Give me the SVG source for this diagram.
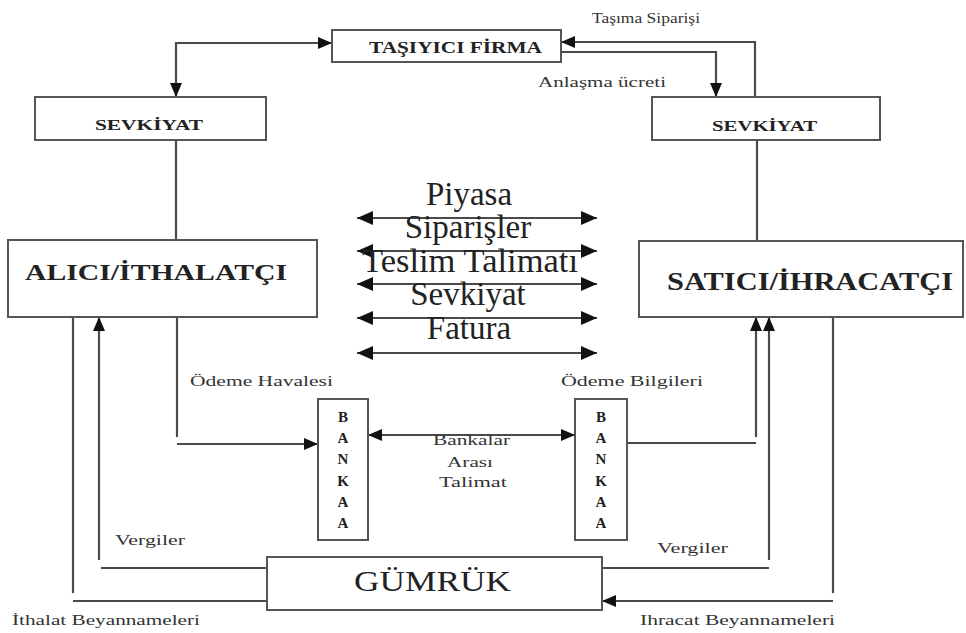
<svg xmlns="http://www.w3.org/2000/svg" width="966" height="633" viewBox="0 0 966 633">
<style>
.box{fill:#fff;stroke:#555;stroke-width:2}
.ln{fill:none;stroke:#4a4a4a;stroke-width:2.2}
.ar{marker-end:url(#ah)}
.ar2{marker-start:url(#ah);marker-end:url(#ah)}
.big{marker-start:url(#ahL);marker-end:url(#ahL)}
.bt{font-family:"Liberation Serif","Times New Roman",serif;font-weight:bold;fill:#222}
.lb{font-family:"Liberation Serif","Times New Roman",serif;font-size:14px;fill:#333}
.mid{font-family:"Liberation Serif","Times New Roman",serif;font-size:33px;fill:#222;text-anchor:middle}
</style>
<defs>
<marker id="ah" viewBox="0 0 14 12" refX="14" refY="6" markerWidth="14" markerHeight="12" orient="auto-start-reverse" markerUnits="userSpaceOnUse"><path d="M0,0 L14,6 L0,12 z" fill="#111"/></marker>
<marker id="ahL" viewBox="0 0 16 14" refX="16" refY="7" markerWidth="16" markerHeight="14" orient="auto-start-reverse" markerUnits="userSpaceOnUse"><path d="M0,0 L16,7 L0,14 z" fill="#111"/></marker>
</defs>
<rect width="966" height="633" fill="#fff"/>

<g id="connectors">
<path class="ln ar2" d="M176,97 V43 H332"/>
<path class="ln ar" d="M755,97 V42 H561"/>
<path class="ln ar" d="M561,52 H716 V97"/>
<path class="ln" d="M176,140 V240"/>
<path class="ln" d="M757,140 V241"/>
<path class="ln big" d="M357,218 H597"/>
<path class="ln big" d="M357,251 H597"/>
<path class="ln big" d="M357,284 H597"/>
<path class="ln big" d="M357,318 H597"/>
<path class="ln big" d="M357,353 H597"/>
<path class="ln" d="M177,317 V437"/>
<path class="ln ar" d="M177,444 H318"/>
<path class="ln ar2" d="M368,435 H575"/>
<path class="ln" d="M627,443 H756"/>
<path class="ln ar" d="M756,437 V317"/>
<path class="ln" d="M602,568 H769"/>
<path class="ln ar" d="M769,560 V317"/>
<path class="ln" d="M267,568 H101"/>
<path class="ln ar" d="M99,560 V317"/>
<path class="ln" d="M73,317 V593"/>
<path class="ln" d="M73,601 H267"/>
<path class="ln" d="M833,317 V593"/>
<path class="ln ar" d="M833,601 H602"/>
</g>

<g id="labels">
<text class="lb" x="592" y="23" textLength="108" lengthAdjust="spacingAndGlyphs">Taşıma Siparişi</text>
<text class="lb" x="538" y="87" textLength="128" lengthAdjust="spacingAndGlyphs">Anlaşma ücreti</text>
<text class="mid" x="469" y="205">Piyasa</text>
<text class="mid" x="468" y="238">Siparişler</text>
<text class="mid" x="470" y="272" textLength="216" lengthAdjust="spacingAndGlyphs">Teslim Talimatı</text>
<text class="mid" x="468" y="305">Sevkiyat</text>
<text class="mid" x="469" y="339">Fatura</text>
<text class="lb" x="190" y="386" textLength="143" lengthAdjust="spacingAndGlyphs">Ödeme Havalesi</text>
<text class="lb" x="561" y="386" textLength="142" lengthAdjust="spacingAndGlyphs">Ödeme Bilgileri</text>
<text class="lb" x="433" y="445" textLength="77" lengthAdjust="spacingAndGlyphs">Bankalar</text>
<text class="lb" x="447" y="467" textLength="46" lengthAdjust="spacingAndGlyphs">Arası</text>
<text class="lb" x="439" y="487" textLength="68" lengthAdjust="spacingAndGlyphs">Talimat</text>
<text class="lb" x="115" y="545" textLength="70" lengthAdjust="spacingAndGlyphs">Vergiler</text>
<text class="lb" x="657" y="553" textLength="71" lengthAdjust="spacingAndGlyphs">Vergiler</text>
<text class="lb" x="12" y="625" textLength="188" lengthAdjust="spacingAndGlyphs">İthalat Beyannameleri</text>
<text class="lb" x="640" y="625" textLength="195" lengthAdjust="spacingAndGlyphs">Ihracat Beyannameleri</text>
</g>

<g id="tasiyici">
<rect class="box" x="332" y="30" width="229" height="32"/>
<text class="bt" x="369" y="53" font-size="17" textLength="173" lengthAdjust="spacingAndGlyphs">TAŞIYICI FİRMA</text>
</g>
<g id="sevkiyat-left">
<rect class="box" x="35" y="97" width="231" height="43"/>
<text class="bt" x="95" y="130" font-size="15" textLength="108" lengthAdjust="spacingAndGlyphs">SEVKİYAT</text>
</g>
<g id="sevkiyat-right">
<rect class="box" x="652" y="97" width="228" height="43"/>
<text class="bt" x="712" y="131" font-size="15" textLength="105" lengthAdjust="spacingAndGlyphs">SEVKİYAT</text>
</g>
<g id="alici">
<rect class="box" x="8" y="240" width="309" height="77"/>
<text class="bt" x="25" y="280" font-size="23" textLength="262" lengthAdjust="spacingAndGlyphs">ALICI/İTHALATÇI</text>
</g>
<g id="satici">
<rect class="box" x="639" y="241" width="324" height="76"/>
<text class="bt" x="667" y="290" font-size="25" textLength="286" lengthAdjust="spacingAndGlyphs">SATICI/İHRACATÇI</text>
</g>
<g id="banka-left">
<rect class="box" x="318" y="399" width="50" height="141"/>
<g class="bt" font-size="15" text-anchor="middle">
<text x="343" y="422">B</text><text x="343" y="443">A</text><text x="343" y="464">N</text><text x="343" y="486">K</text><text x="343" y="507">A</text><text x="343" y="528">A</text>
</g>
</g>
<g id="banka-right">
<rect class="box" x="575" y="399" width="52" height="141"/>
<g class="bt" font-size="15" text-anchor="middle">
<text x="601" y="422">B</text><text x="601" y="443">A</text><text x="601" y="464">N</text><text x="601" y="486">K</text><text x="601" y="507">A</text><text x="601" y="528">A</text>
</g>
</g>
<g id="gumruk">
<rect class="box" x="267" y="557" width="335" height="53"/>
<text x="354" y="591" font-family="Liberation Serif, Times New Roman, serif" font-size="30" fill="#222" textLength="157" lengthAdjust="spacingAndGlyphs">GÜMRÜK</text>
</g>
</svg>
